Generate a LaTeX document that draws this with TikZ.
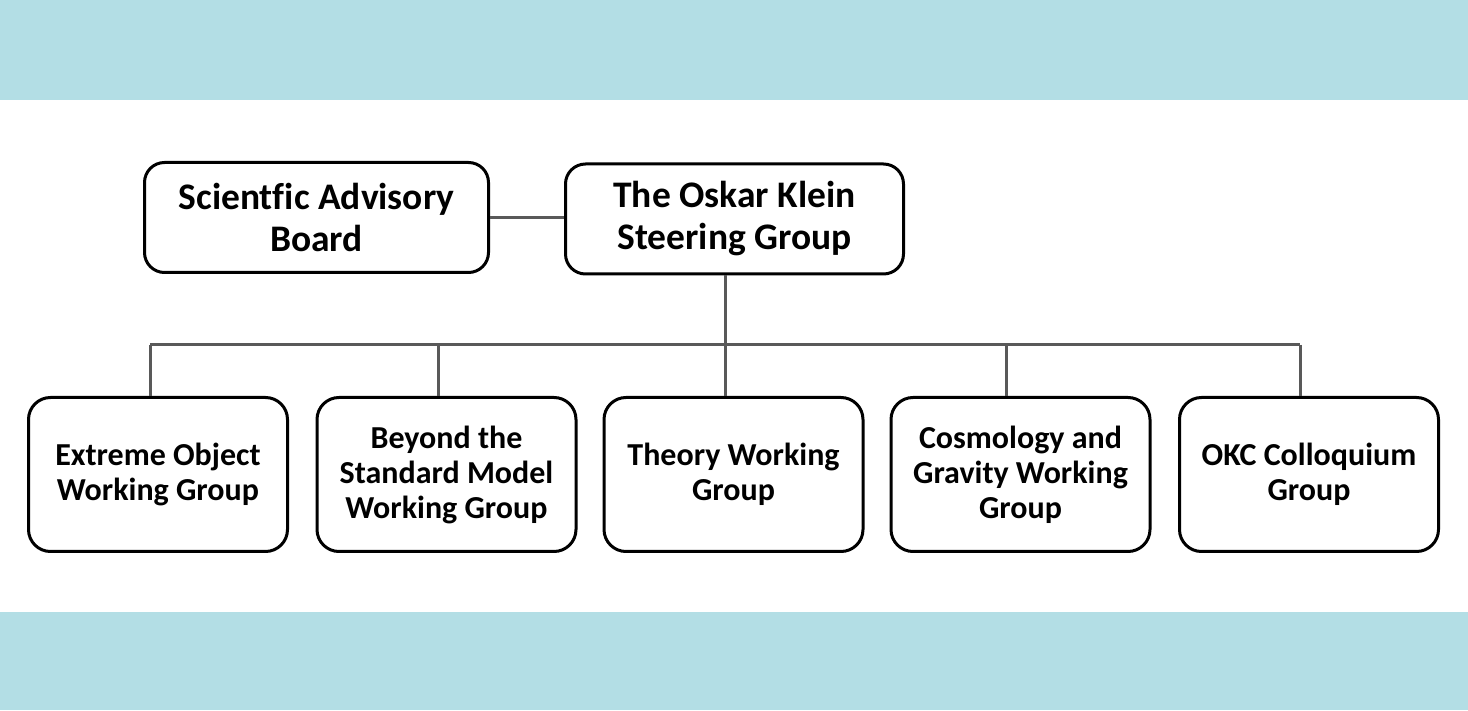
\documentclass[tikz,border=0pt]{standalone}
\usepackage{fontspec}
\setmainfont{Carlito}[Ligatures=NoCommon]
\definecolor{bandblue}{RGB}{179,222,229}
\definecolor{linkgray}{RGB}{89,89,89}
\tikzset{
  topbox/.style={draw=black,line width=3pt,rounded corners=20pt,
    minimum height=110pt,align=center,
    font=\fontsize{37.5}{42}\selectfont\bfseries},
  groupbox/.style={draw=black,line width=3pt,rounded corners=22pt,
    minimum width=259pt,minimum height=154pt,align=center,
    font=\fontsize{32}{35}\selectfont\bfseries},
  link/.style={draw=linkgray,line width=3pt}
}
\begin{document}
\begin{tikzpicture}[x=1pt,y=1pt]
\useasboundingbox (0,0) rectangle (1468,710);
% bands
\fill[white] (0,0) rectangle (1468,710);
\fill[bandblue] (0,610) rectangle (1468,710);
\fill[bandblue] (0,0) rectangle (1468,98);
% top row
\node[topbox,minimum width=344pt] (sab) at (316.5,492.5) {Scientfic Advisory\\Board};
\node[topbox,minimum width=338pt] (okg) at (734.5,491) {The Oskar Klein\\Steering Group};
% groups
\node[groupbox] (eog) at (158,235.5) {Extreme Object\\Working Group};
\node[groupbox] (bsm) at (446.5,235.5) {Beyond the\\Standard Model\\Working Group};
\node[groupbox] (twg) at (733.5,235.5) {Theory Working\\Group};
\node[groupbox] (cgw) at (1020.5,235.5) {Cosmology and\\Gravity Working\\Group};
\node[groupbox] (okc) at (1309,235.5) {OKC Colloquium\\Group};
% bus
\coordinate (hub) at (725,365);
\coordinate (b1) at (150,365);
\coordinate (b2) at (438,365);
\coordinate (b3) at (725,365);
\coordinate (b4) at (1006,365);
\coordinate (b5) at (1300,365);
\draw[link] (sab.east) -- (sab.east -| okg.west);
\draw[link] (hub |- okg.south) -- (hub);
\draw[link] (b1) -- (b5);
\draw[link] (b1) -- (b1 |- eog.north);
\draw[link] (b2) -- (b2 |- bsm.north);
\draw[link] (b3) -- (b3 |- twg.north);
\draw[link] (b4) -- (b4 |- cgw.north);
\draw[link] (b5) -- (b5 |- okc.north);
\end{tikzpicture}
\end{document}
